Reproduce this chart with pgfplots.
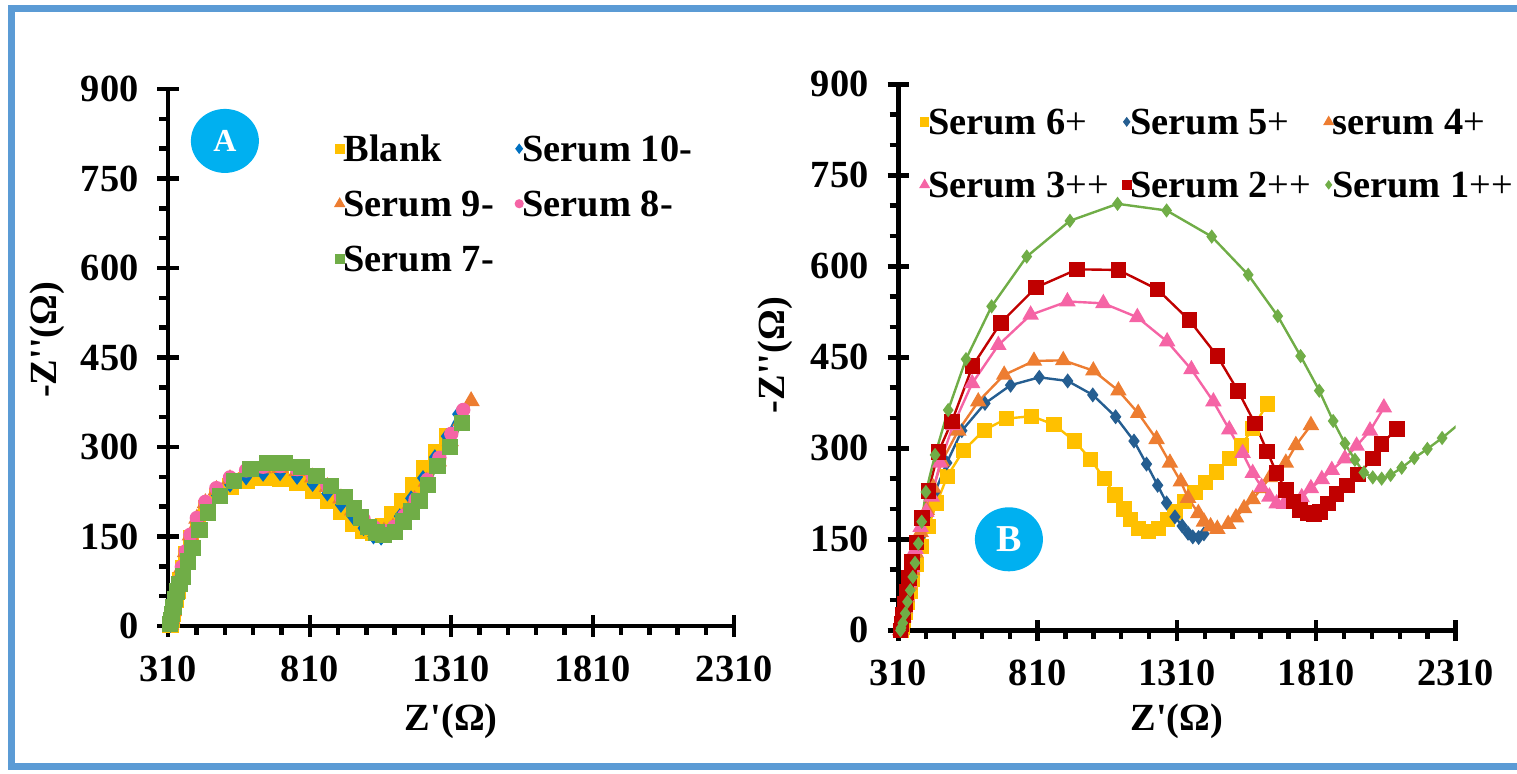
\documentclass[border=0pt]{standalone}
\usepackage{fontspec}
\setmainfont{Liberation Serif}
\newfontfamily\tnr{Liberation Serif}
\usepackage{pgfplots}
\pgfplotsset{compat=1.18}
\definecolor{cYel}{HTML}{FFC000}
\definecolor{cOra}{HTML}{ED7D31}
\definecolor{cBlu}{HTML}{0070C0}
\definecolor{cDBl}{HTML}{255E91}
\definecolor{cPnk}{HTML}{F564A5}
\definecolor{cGrn}{HTML}{70AD47}
\definecolor{cRed}{HTML}{C00000}
\definecolor{cCyan}{HTML}{00B0F0}
\definecolor{cFrame}{HTML}{5B9BD5}
\pgfplotsset{
  eisaxis/.style={
    scale only axis,
    axis lines=left,
    axis line style={line width=2.2pt,-,black},
    xmin=310,xmax=2310,ymin=0,ymax=900,
    xtick={310,810,1310,1810,2310},
    xticklabels={310,810,1310,1810,2310},
    ytick={0,150,300,450,600,750,900},
    yticklabels={0,150,300,450,600,750,900},
    minor x tick num=4, minor y tick num=2,
    tick align=center,
    major tick length=10.8pt, minor tick length=4.4pt,
    every tick/.style={line width=2.2pt,black},
    minor x tick style={yshift=-2.2pt},
    minor y tick style={xshift=-2.2pt},
    tick label style={font=\fontsize{19.2}{21}\selectfont\bfseries},
    xticklabel style={yshift=-6pt},
    yticklabel style={xshift=-6pt},
    label style={font=\fontsize{19.2}{21}\selectfont\bfseries},
    xlabel={\tnr Z'(Ω)},
    ylabel={\tnr -Z''(Ω)},
    every axis plot/.append style={line width=1.2pt},
    every mark/.append style={line width=0.4pt},
    legend cell align=left,
    legend image code/.code={\path[##1, every mark/.append style={scale=0.55}] plot coordinates {(0pt,0pt)};},
    legend style={draw=none, fill=none, inner sep=0pt, outer sep=0pt, anchor=north west,
      font=\fontsize{19.2}{21}\selectfont\bfseries,
      nodes={inner sep=0pt, text height=13pt, text depth=0pt}},
  }
}
\begin{document}
\begin{tikzpicture}
\useasboundingbox (0,0) rectangle (758.5pt,386.5pt);
% ---------------- Panel A ----------------
\begin{axis}[eisaxis, at={(84.15pt,73.5pt)}, anchor=south west, width=283pt, height=268.5pt,
  xlabel style={at={(axis description cs:0.5,-0.178)}, anchor=center},
  ylabel style={at={(axis description cs:-0.214,0.533)}, anchor=center},
  legend columns=2,
  legend style={at={(axis description cs:0.296,0.913)}, row sep=14.5pt,
    /tikz/every even column/.append style={column sep=11pt}}]
\addplot[color=cYel, mark=square*, mark size=3.5pt] coordinates {
(318,2)(321,10)(325,20)(330,31)(336,44)(343,59)(351,76)(361,97)(374,121)(391,147)(414,173)(444,197)(482,218)(530,234)(586,244)(646,248)(706,247)(766,240)(822,227)(874,210)(922,192)(964,172)(1000,160)(1035,157)(1068,168)(1100,188)(1136,210)(1176,236)(1216,264)(1256,292)(1296,318)};
\addlegendentry{Blank}
\addplot[color=cBlu, mark=diamond*, mark size=3pt] coordinates {
(318,2)(322,12)(327,24)(333,38)(340,54)(348,72)(358,94)(371,119)(388,146)(411,173)(441,198)(480,220)(528,237)(585,249)(645,255)(705,256)(765,250)(820,238)(872,222)(920,203)(962,183)(1000,164)(1035,150)(1062,148)(1092,160)(1128,184)(1168,214)(1210,248)(1252,283)(1294,318)(1334,355)};
\addlegendentry{Serum 10-}
\addplot[color=cOra, mark=triangle*, mark size=3.8pt] coordinates {
(318,2)(322,12)(327,25)(333,40)(340,56)(348,75)(358,98)(371,124)(388,152)(411,180)(441,206)(480,228)(528,246)(585,258)(645,264)(705,265)(765,260)(820,249)(872,233)(920,214)(962,194)(1000,176)(1038,163)(1072,158)(1104,165)(1140,184)(1180,211)(1222,242)(1264,276)(1306,310)(1344,344)(1380,377)};
\addlegendentry{Serum 9-}
\addplot[color=cPnk, mark=*, mark size=3pt] coordinates {
(318,2)(322,12)(327,25)(333,40)(340,57)(348,76)(358,99)(371,125)(388,153)(411,181)(441,208)(480,231)(528,249)(585,261)(645,267)(705,268)(765,263)(820,252)(872,236)(920,217)(962,197)(1000,179)(1038,165)(1074,159)(1108,166)(1144,185)(1184,212)(1226,245)(1268,282)(1310,322)(1352,362)};
\addlegendentry{Serum 8-}
\addplot[color=cGrn, mark=square*, mark size=3.5pt] coordinates {
(316,3)(319,10)(323,20)(328,32)(334,45)(341,58)(350,70)(363,83)(379,108)(396,131)(420,161)(451,190)(493,218)(543,243)(601,263)(660,273)(720,273)(781,266)(834,251)(885,235)(932,216)(966,197)(990,182)(1017,166)(1045,157)(1070,153)(1111,158)(1141,175)(1170,192)(1197,210)(1227,236)(1261,268)(1306,300)(1347,340)};
\addlegendentry{Serum 7-}
\fill[cCyan] (axis cs:510,813) ellipse [x radius=17pt, y radius=16pt];
\node[text=white, font=\fontsize{16}{16}\selectfont\bfseries] at (axis cs:510,813) {A};
\end{axis}
% ---------------- Panel B ----------------
\begin{axis}[eisaxis, at={(449.15pt,71.35pt)}, anchor=south west, width=278.6pt, height=273pt,
  xlabel style={at={(axis description cs:0.5,-0.166)}, anchor=center},
  ylabel style={at={(axis description cs:-0.221,0.504)}, anchor=center},
  legend columns=3,
  legend style={at={(axis description cs:0.041,0.955)}, row sep=18.5pt,
    /tikz/every even column/.append style={column sep=7pt}}]
\addplot[color=cYel, mark=square*, mark size=3.2pt] coordinates {
(320,0)(325,5)(330,16)(336,30)(343,46)(352,64)(362,84)(375,108)(394,138)(418,171)(448,210)(486,254)(543,296)(618,330)(699,349)(789,353)(869,339)(942,312)(1000,282)(1049,250)(1088,223)(1120,200)(1144,183)(1171,168)(1207,163)(1243,168)(1275,183)(1303,195)(1336,212)(1375,227)(1414,243)(1453,261)(1498,283)(1542,305)(1582,333)(1634,373)};
\addlegendentry{Serum 6{\mdseries +}}
\addplot[color=cDBl, mark=diamond*, mark size=2.8pt] coordinates {
(318,0)(322,8)(327,20)(333,35)(340,52)(349,72)(359,95)(372,122)(390,155)(412,190)(442,228)(484,276)(538,329)(621,374)(713,404)(816,417)(918,411)(1008,388)(1090,352)(1156,312)(1201,274)(1241,239)(1273,210)(1303,187)(1329,172)(1350,160)(1367,154)(1388,153)(1407,159)};
\addlegendentry{Serum 5{\mdseries +}}
\addplot[color=cOra, mark=triangle*, mark size=3.6pt] coordinates {
(318,0)(322,8)(327,20)(333,36)(340,54)(349,75)(359,99)(372,128)(390,162)(412,198)(435,235)(466,278)(525,329)(597,377)(690,421)(797,444)(902,445)(1010,428)(1100,395)(1171,358)(1237,315)(1285,276)(1324,245)(1350,218)(1387,193)(1407,179)(1431,171)(1455,167)(1494,175)(1522,186)(1551,201)(1582,216)(1614,234)(1644,252)(1701,276)(1737,305)(1791,338)};
\addlegendentry{serum 4{\mdseries +}}
\addplot[color=cPnk, mark=triangle*, mark size=3.6pt] coordinates {
(318,0)(322,9)(327,22)(333,38)(340,57)(349,79)(359,104)(372,134)(390,170)(410,195)(430,220)(460,276)(507,338)(575,407)(669,470)(785,520)(917,542)(1046,539)(1168,516)(1275,476)(1362,430)(1441,377)(1498,331)(1546,292)(1582,259)(1614,236)(1642,220)(1668,209)(1694,208)(1726,211)(1758,219)(1791,234)(1830,249)(1866,264)(1913,283)(1955,304)(2003,329)(2053,367)};
\addlegendentry{Serum 3{\mdseries ++}}
\addplot[color=cRed, mark=square*, mark size=3.3pt] coordinates {
(318,0)(322,10)(327,25)(333,43)(340,63)(349,86)(360,113)(375,145)(396,185)(418,230)(454,294)(502,344)(577,436)(678,507)(804,565)(952,595)(1100,594)(1240,562)(1355,511)(1455,452)(1530,394)(1590,341)(1634,295)(1668,259)(1701,231)(1728,212)(1752,198)(1781,193)(1802,192)(1823,195)(1853,209)(1883,225)(1921,239)(1961,257)(2013,283)(2045,307)(2099,332)};
\addlegendentry{Serum 2{\mdseries ++}}
\addplot[color=cGrn, mark=diamond*, mark size=2.6pt] coordinates {
(318,0)(320,4)(326,12)(335,28)(343,47)(353,66)(362,88)(370,111)(382,143)(394,179)(409,228)(442,289)(489,363)(553,447)(645,534)(771,616)(926,675)(1097,703)(1273,692)(1435,649)(1566,586)(1672,518)(1754,452)(1821,395)(1871,345)(1913,308)(1949,281)(1981,260)(2013,252)(2045,250)(2077,256)(2117,268)(2162,284)(2209,299)(2262,317)(2330,343)};
\addlegendentry{Serum 1{\mdseries ++}}
\fill[cCyan] (axis cs:707,150) ellipse [x radius=17pt, y radius=16pt];
\node[text=white, font=\fontsize{19}{19}\selectfont\bfseries] at (axis cs:707,150) {B};
\end{axis}
% ---------------- frame ----------------
\draw[cFrame, line width=3.5pt] (800pt,382.25pt) -- (5.5pt,382.25pt) -- (5.5pt,3.5pt) -- (800pt,3.5pt);
\end{tikzpicture}
\end{document}
